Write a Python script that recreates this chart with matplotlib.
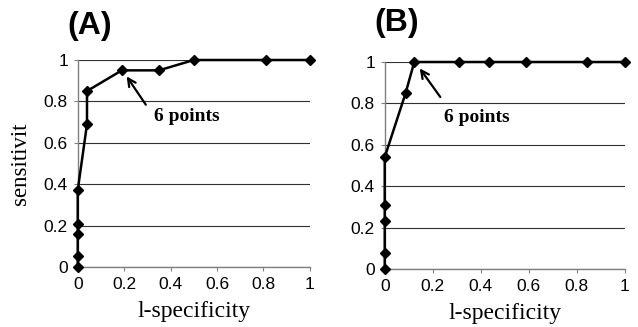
import matplotlib
matplotlib.use("Agg")
import matplotlib.pyplot as plt

# ROC points
a_fpr = [0, 0, 0, 0, 0, 0.04, 0.04, 0.19, 0.35, 0.5, 0.81, 1.0]
a_tpr = [0, 0.055, 0.16, 0.21, 0.37, 0.69, 0.85, 0.95, 0.95, 1.0, 1.0, 1.0]
b_fpr = [0, 0, 0, 0, 0, 0.087, 0.123, 0.31, 0.433, 0.59, 0.84, 1.0]
b_tpr = [0, 0.075, 0.233, 0.31, 0.54, 0.85, 1.0, 1.0, 1.0, 1.0, 1.0, 1.0]
ticks = [0, 0.2, 0.4, 0.6, 0.8, 1]
tick_labels = ["0", "0.2", "0.4", "0.6", "0.8", "1"]

fig = plt.figure(figsize=(6.38, 3.27), dpi=100)

def panel(rect, x, y, letter, letter_pos, head, tail, txt_pos, ylabel):
    ax = fig.add_axes(rect)
    ax.plot(x, y, color="black", lw=1.8, marker="D", ms=5, clip_on=False, zorder=3)
    ax.set_xlim(0, 1)
    ax.set_ylim(0, 1)
    ax.set_xticks(ticks)
    ax.set_xticklabels(tick_labels)
    ax.set_yticks(ticks)
    ax.set_yticklabels(tick_labels)
    for lab in ax.get_xticklabels() + ax.get_yticklabels():
        lab.set_family("Liberation Sans")
        lab.set_fontsize(12.5)
    ax.tick_params(axis="both", length=3, color="#808080", pad=4)
    ax.yaxis.grid(True, color="#303030", lw=0.8)
    ax.set_axisbelow(True)
    for s in ["top", "right"]:
        ax.spines[s].set_visible(False)
    for s in ["left", "bottom"]:
        ax.spines[s].set_color("#808080")
        ax.spines[s].set_linewidth(1.0)
    ax.annotate("", xy=head, xytext=tail,
                arrowprops=dict(arrowstyle="->", color="black", lw=1.6,
                                mutation_scale=14))
    ax.text(txt_pos[0], txt_pos[1], "6 points", family="Liberation Serif",
            fontweight="bold", fontsize=14, va="center", ha="left")
    ax.set_xlabel("l-specificity", family="Liberation Serif", fontsize=17, labelpad=7)
    if ylabel:
        ax.set_ylabel("sensitivit", family="Liberation Serif", fontsize=16.5, labelpad=9)
    fig.text(letter_pos[0], letter_pos[1], letter, family="Liberation Sans",
             fontweight="bold", fontsize=23, ha="center", va="center")
    return ax

panel([0.1218, 0.1835, 0.364, 0.633], a_fpr, a_tpr, "(A)", (0.141, 0.922),
      (0.204, 0.932), (0.30, 0.773), (0.33, 0.727), True)
panel([0.603, 0.1774, 0.3766, 0.633], b_fpr, b_tpr, "(B)", (0.621, 0.93),
      (0.139, 0.98), (0.238, 0.82), (0.247, 0.73), False)

fig.savefig("out.png", dpi=100)
